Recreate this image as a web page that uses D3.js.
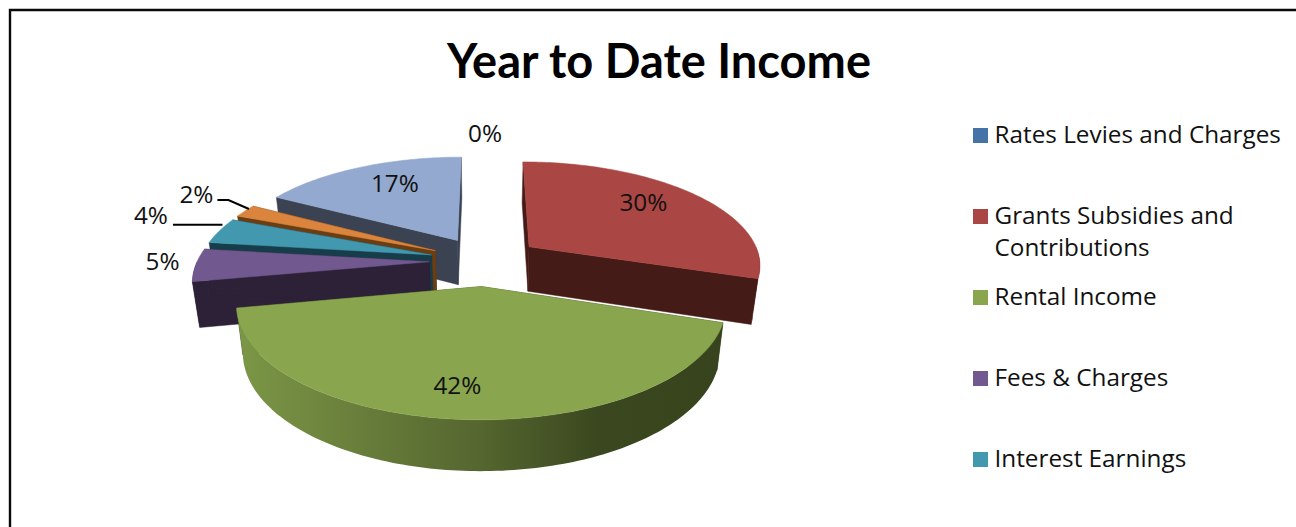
<!DOCTYPE html>
<html>
<head>
<meta charset="utf-8">
<script src="https://cdn.jsdelivr.net/npm/d3@7/dist/d3.min.js"></script>
<style>
  html, body { margin: 0; padding: 0; background: #fff; }
  svg { display: block; }
  text { fill: #111; }
</style>
</head>
<body>
<svg id="chart" width="1296" height="527"></svg>
<script>
// Income shares, in pie order starting at twelve o'clock and running clockwise.
const sliceValues = [0, 30, 42, 5, 4, 2, 17];
const sliceLabels = ["0%", "30%", "42%", "5%", "4%", "2%", "17%"];
const legendNames = [
  ["Rates Levies and Charges"],
  ["Grants Subsidies and", "Contributions"],
  ["Rental Income"],
  ["Fees & Charges"],
  ["Interest Earnings"]
];
const topColors  = ["#4572A7", "#AA4643", "#89A54E", "#71588F", "#4198AF", "#DB843D", "#93A9CF"];
const wallColors = ["#1F3350", "#451B18", "#37431C", "#2D2138", "#173D4A", "#6B3D13", "#3B4252"];
const titleText = "Year to Date Income";

// Label placement: reach along the slice's mid-angle, then a small pixel nudge.
const labelReach = [1.30, 0.74, 0.776, 1.124, 1.35, 1.30, 0.72];
const labelNudge = [[0, -1], [-10, -5], [-10, 0], [-4, -4], [2, -8], [4, -6], [10, -3]];

const svg = d3.select("#chart");
const W = 1296, H = 527;

// Frame, open on the right and bottom where the chart area runs off the page.
svg.append("path")
  .attr("d", `M10,${H}V10H${W}`)
  .attr("fill", "none").attr("stroke", "#0a0a0a").attr("stroke-width", 2.4);

svg.append("text").text(titleText)
  .attr("x", 659).attr("y", 78)
  .attr("text-anchor", "middle")
  .attr("font-family", "Lato, 'Open Sans', sans-serif")
  .attr("font-weight", 700).attr("font-size", 47).style("fill", "#000");

// Perspective view of the tilted pie: disc coordinates (u right, v toward viewer) to the page.
const view = { cx: 485, cy: 261, rx: 232, ry: 102.7, k: 0.16, explode: 0.24, shrink: 0.975, depth: 45, depthGrow: 0.04 };
const project = (u, v) => {
  const w = 1 - view.k * v;
  return [view.cx + view.rx * u / w, view.cy + view.ry * v / w];
};
// The same disc point on the underside of the pie.
const lower = ([x, y]) => [
  view.cx + (x - view.cx) * view.shrink,
  y + view.depth + view.depthGrow * (y - view.cy)
];

const pie = d3.pie().sort(null).startAngle(0).endAngle(2 * Math.PI);
const slices = pie(sliceValues).map((d, i) => {
  const mid = (d.startAngle + d.endAngle) / 2;
  const ou = view.explode * Math.sin(mid);
  const ov = -view.explode * Math.cos(mid);
  const at = (a, r = 1) => project(ou + r * Math.sin(a), ov - r * Math.cos(a));
  return { ...d, i, mid, ou, ov, at };
});

const line = d3.line();
const arcPoints = (s, a0, a1) => {
  const n = Math.max(2, Math.ceil((a1 - a0) / 0.02));
  return d3.range(n + 1).map(j => s.at(a0 + (a1 - a0) * j / n));
};

const defs = svg.append("defs");
const pieGroup = svg.append("g");

// Back slices first, the large front slice last.
const drawOrder = [1, 6, 5, 4, 3, 2];
const frontSlice = 2;
drawOrder.forEach(i => {
  const s = slices[i];
  const centre = project(s.ou, s.ov);
  const g = pieGroup.append("g");

  // Radial walls.
  [s.startAngle, s.endAngle].forEach(a => {
    const edge = s.at(a);
    g.append("path")
      .attr("d", line([centre, edge, lower(edge), lower(centre)]) + "Z")
      .attr("fill", wallColors[i]).attr("stroke", wallColors[i]).attr("stroke-width", 0.5);
  });

  // Curved rim, only along the part that faces the viewer.
  const a0 = Math.max(s.startAngle, Math.PI / 2);
  const a1 = Math.min(s.endAngle, 3 * Math.PI / 2);
  if (a1 > a0) {
    const rim = arcPoints(s, a0, a1);
    let fill = wallColors[i];
    if (i === frontSlice) {
      // The front slice's rim is lit from the left.
      const left = d3.min(rim, p => p[0]);
      const right = d3.max(rim, p => p[0]);
      const grad = defs.append("linearGradient").attr("id", "rimShade")
        .attr("gradientUnits", "userSpaceOnUse")
        .attr("x1", left).attr("x2", right).attr("y1", 0).attr("y2", 0);
      [[0, "#7C9747"], [0.1, "#748D42"], [0.5, "#55662F"], [0.74, "#3B481F"], [1, "#37431C"]]
        .forEach(([o, c]) => grad.append("stop").attr("offset", o).attr("stop-color", c));
      fill = "url(#rimShade)";
    }
    g.append("path")
      .attr("d", line(rim.concat(rim.map(lower).reverse())) + "Z")
      .attr("fill", fill);
  }

  // Top face.
  g.append("path")
    .attr("d", line([centre].concat(arcPoints(s, s.startAngle, s.endAngle))) + "Z")
    .attr("fill", topColors[i]).attr("stroke", topColors[i]).attr("stroke-width", 0.5);
});

// Percentage labels.
const labelFont = "'Open Sans', 'Noto Sans', sans-serif";
const labelPos = slices.map((s, i) => {
  const [x, y] = s.at(s.mid, labelReach[i]);
  return [x + labelNudge[i][0], y + labelNudge[i][1]];
});
svg.append("g").selectAll("text").data(sliceLabels).join("text")
  .text(d => d)
  .attr("x", (d, i) => labelPos[i][0])
  .attr("y", (d, i) => labelPos[i][1])
  .attr("dy", "0.36em")
  .attr("text-anchor", "middle")
  .attr("font-family", labelFont).attr("font-size", 24.3);

// Leader lines from the two small outer labels to their slices.
const leader = points => svg.append("path")
  .attr("d", line(points)).attr("fill", "none")
  .attr("stroke", "#000").attr("stroke-width", 2);
{
  const [lx, ly] = labelPos[4];
  const [ex] = slices[4].at(slices[4].mid);
  leader([[lx + 22, ly + 10], [ex + 3, ly + 10]]);
  const [ox, oy] = labelPos[5];
  const [px, py] = slices[5].at(slices[5].mid);
  leader([[ox + 21, oy + 6], [ox + 32, oy + 6], [px + 4, py - 2]]);
}

// Legend.
const legendX = 973, legendTop = 135.5, legendStep = 81, lineStep = 31.5;
const legendY = d3.scaleLinear().domain([0, 1]).range([legendTop, legendTop + legendStep]);
const legend = svg.append("g").selectAll("g").data(legendNames).join("g")
  .attr("transform", (d, i) => `translate(${legendX},${legendY(i)})`);
legend.append("rect")
  .attr("x", 0).attr("y", -7.5).attr("width", 15).attr("height", 15)
  .attr("fill", (d, i) => topColors[i]);
legend.each(function (names) {
  d3.select(this).selectAll("text").data(names).join("text")
    .text(t => t)
    .attr("x", 21.5)
    .attr("y", (t, j) => j * lineStep - 1)
    .attr("dy", "0.36em")
    .attr("font-family", labelFont).attr("font-size", 24.3);
});
</script>
</body>
</html>
